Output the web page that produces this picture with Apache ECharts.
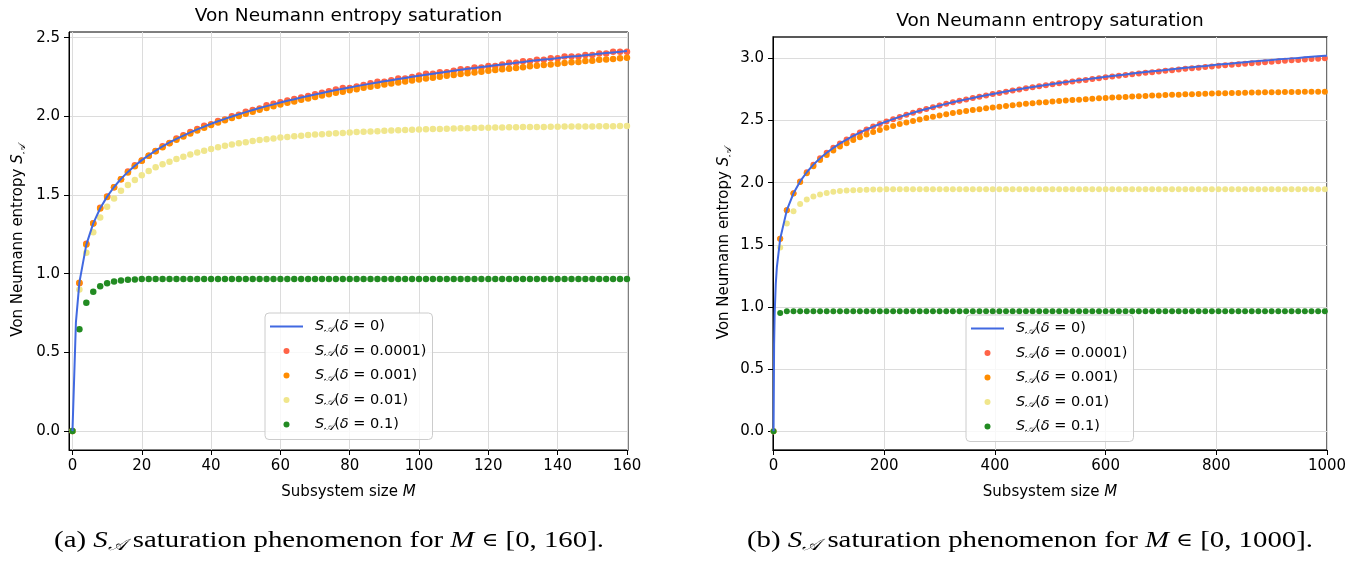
<!DOCTYPE html>
<html>
<head>
<meta charset="utf-8">
<title>Von Neumann entropy saturation</title>
<script src="https://cdn.jsdelivr.net/npm/echarts@6/dist/echarts.min.js"></script>
<style>
  html, body { margin: 0; padding: 0; background: #fff; }
  #main { width: 1362px; height: 561px; }
</style>
</head>
<body>
<div id="main"></div>
<script>
// ---- panel (a): subsystem sizes M = 0..160 ----
var mLeft = [0, 2, 4, 6, 8, 10, 12, 14, 16, 18,
  20, 22, 24, 26, 28, 30, 32, 34, 36, 38,
  40, 42, 44, 46, 48, 50, 52, 54, 56, 58,
  60, 62, 64, 66, 68, 70, 72, 74, 76, 78,
  80, 82, 84, 86, 88, 90, 92, 94, 96, 98,
  100, 102, 104, 106, 108, 110, 112, 114, 116, 118,
  120, 122, 124, 126, 128, 130, 132, 134, 136, 138,
  140, 142, 144, 146, 148, 150, 152, 154, 156, 158,
  160];

// delta = 0 (solid line)
var s0Left = [0, 0.945, 1.185, 1.320, 1.416, 1.490, 1.551, 1.603, 1.647, 1.686,
  1.722, 1.753, 1.782, 1.809, 1.834, 1.857, 1.878, 1.898, 1.917, 1.935,
  1.953, 1.969, 1.984, 1.999, 2.013, 2.027, 2.040, 2.053, 2.065, 2.076,
  2.088, 2.099, 2.109, 2.120, 2.129, 2.139, 2.149, 2.158, 2.167, 2.175,
  2.184, 2.192, 2.200, 2.208, 2.215, 2.223, 2.230, 2.237, 2.244, 2.251,
  2.258, 2.265, 2.271, 2.277, 2.284, 2.290, 2.296, 2.302, 2.307, 2.313,
  2.319, 2.324, 2.330, 2.335, 2.340, 2.345, 2.351, 2.356, 2.361, 2.365,
  2.370, 2.375, 2.380, 2.384, 2.389, 2.393, 2.398, 2.402, 2.406, 2.410,
  2.415];
// the line also passes through M = 1
var lineExtraLeftM = [1];
var lineExtraLeftS = [0.693];

// delta = 0.0001
var redLeft = [0, 0.94, 1.19, 1.32, 1.42, 1.49, 1.55, 1.60, 1.65, 1.69,
  1.72, 1.75, 1.78, 1.81, 1.83, 1.86, 1.88, 1.90, 1.92, 1.94,
  1.95, 1.97, 1.98, 2.00, 2.01, 2.03, 2.04, 2.05, 2.07, 2.08,
  2.09, 2.10, 2.11, 2.12, 2.13, 2.14, 2.15, 2.16, 2.17, 2.18,
  2.18, 2.19, 2.20, 2.21, 2.22, 2.22, 2.23, 2.24, 2.24, 2.25,
  2.26, 2.27, 2.27, 2.28, 2.28, 2.29, 2.30, 2.30, 2.31, 2.31,
  2.32, 2.32, 2.33, 2.34, 2.34, 2.35, 2.35, 2.36, 2.36, 2.37,
  2.37, 2.38, 2.38, 2.38, 2.39, 2.39, 2.40, 2.40, 2.41, 2.41,
  2.41];

// delta = 0.001
var orangeLeft = [0, 0.943, 1.185, 1.319, 1.415, 1.488, 1.549, 1.601, 1.644, 1.683,
  1.718, 1.749, 1.778, 1.804, 1.829, 1.851, 1.872, 1.891, 1.910, 1.928,
  1.945, 1.961, 1.975, 1.990, 2.003, 2.017, 2.029, 2.042, 2.053, 2.064,
  2.075, 2.086, 2.095, 2.106, 2.114, 2.123, 2.133, 2.141, 2.150, 2.157,
  2.166, 2.173, 2.181, 2.188, 2.195, 2.202, 2.208, 2.215, 2.221, 2.228,
  2.234, 2.240, 2.246, 2.251, 2.258, 2.263, 2.269, 2.274, 2.278, 2.284,
  2.289, 2.294, 2.299, 2.303, 2.308, 2.312, 2.318, 2.322, 2.326, 2.330,
  2.334, 2.339, 2.343, 2.346, 2.351, 2.354, 2.359, 2.362, 2.365, 2.369,
  2.373];

// delta = 0.01
var khakiLeft = [0, 0.900, 1.134, 1.264, 1.357, 1.425, 1.478, 1.527, 1.564, 1.596,
  1.626, 1.652, 1.676, 1.695, 1.712, 1.729, 1.744, 1.758, 1.771, 1.782,
  1.793, 1.803, 1.813, 1.821, 1.829, 1.836, 1.843, 1.849, 1.854, 1.860,
  1.865, 1.869, 1.873, 1.877, 1.881, 1.884, 1.887, 1.890, 1.892, 1.895,
  1.898, 1.900, 1.902, 1.904, 1.906, 1.908, 1.910, 1.912, 1.913, 1.915,
  1.916, 1.918, 1.919, 1.920, 1.922, 1.923, 1.924, 1.925, 1.926, 1.927,
  1.928, 1.929, 1.929, 1.930, 1.931, 1.932, 1.932, 1.933, 1.933, 1.934,
  1.934, 1.935, 1.935, 1.936, 1.936, 1.936, 1.937, 1.937, 1.937, 1.938,
  1.938];

// delta = 0.1
var greenLeft = [0, 0.647, 0.815, 0.885, 0.921, 0.940, 0.951, 0.957, 0.962, 0.964,
  0.966, 0.966, 0.966, 0.966, 0.966, 0.966, 0.966, 0.966, 0.966, 0.966,
  0.966, 0.966, 0.966, 0.966, 0.966, 0.966, 0.966, 0.966, 0.966, 0.966,
  0.966, 0.966, 0.966, 0.966, 0.966, 0.966, 0.966, 0.966, 0.966, 0.966,
  0.966, 0.966, 0.966, 0.966, 0.966, 0.966, 0.966, 0.966, 0.966, 0.966,
  0.966, 0.966, 0.966, 0.966, 0.966, 0.966, 0.966, 0.966, 0.966, 0.966,
  0.966, 0.966, 0.966, 0.966, 0.966, 0.966, 0.966, 0.966, 0.966, 0.966,
  0.966, 0.966, 0.966, 0.966, 0.966, 0.966, 0.966, 0.966, 0.966, 0.966,
  0.966];

// ---- panel (b): subsystem sizes M = 0..996 ----
var mRight = [0, 12, 24, 36, 48, 60, 72, 84, 96, 108,
  120, 132, 144, 156, 168, 180, 192, 204, 216, 228,
  240, 252, 264, 276, 288, 300, 312, 324, 336, 348,
  360, 372, 384, 396, 408, 420, 432, 444, 456, 468,
  480, 492, 504, 516, 528, 540, 552, 564, 576, 588,
  600, 612, 624, 636, 648, 660, 672, 684, 696, 708,
  720, 732, 744, 756, 768, 780, 792, 804, 816, 828,
  840, 852, 864, 876, 888, 900, 912, 924, 936, 948,
  960, 972, 984, 996];

var s0Right = [0, 1.548, 1.779, 1.914, 2.010, 2.084, 2.145, 2.197, 2.241, 2.280,
  2.316, 2.347, 2.376, 2.403, 2.428, 2.451, 2.472, 2.492, 2.511, 2.529,
  2.547, 2.563, 2.578, 2.593, 2.607, 2.621, 2.634, 2.647, 2.659, 2.670,
  2.682, 2.693, 2.703, 2.714, 2.723, 2.733, 2.743, 2.752, 2.761, 2.769,
  2.778, 2.786, 2.794, 2.802, 2.809, 2.817, 2.824, 2.831, 2.838, 2.845,
  2.852, 2.859, 2.865, 2.871, 2.878, 2.884, 2.890, 2.896, 2.901, 2.907,
  2.913, 2.918, 2.924, 2.929, 2.934, 2.939, 2.945, 2.950, 2.955, 2.959,
  2.964, 2.969, 2.974, 2.978, 2.983, 2.987, 2.992, 2.996, 3.000, 3.004,
  3.009, 3.013, 3.017, 3.021];
// the line is sampled more finely near M = 0 and runs to M = 1000
var lineExtraRightM = [1, 2, 4, 6, 1000];
var lineExtraRightS = [0.693, 0.945, 1.185, 1.320, 3.022];

var redRight = [0, 1.548, 1.779, 1.914, 2.010, 2.084, 2.145, 2.197, 2.241, 2.280,
  2.316, 2.347, 2.376, 2.403, 2.428, 2.451, 2.472, 2.492, 2.511, 2.529,
  2.547, 2.563, 2.578, 2.593, 2.607, 2.621, 2.634, 2.647, 2.659, 2.670,
  2.682, 2.692, 2.702, 2.713, 2.722, 2.732, 2.742, 2.750, 2.759, 2.767,
  2.776, 2.784, 2.791, 2.799, 2.806, 2.814, 2.821, 2.827, 2.834, 2.841,
  2.848, 2.854, 2.860, 2.866, 2.872, 2.878, 2.884, 2.889, 2.894, 2.900,
  2.905, 2.910, 2.916, 2.920, 2.925, 2.930, 2.935, 2.940, 2.944, 2.948,
  2.952, 2.957, 2.961, 2.965, 2.969, 2.972, 2.977, 2.980, 2.984, 2.987,
  2.991, 2.994, 2.998, 3.001];

var orangeRight = [0, 1.548, 1.779, 1.913, 2.006, 2.076, 2.133, 2.182, 2.222, 2.258,
  2.290, 2.317, 2.343, 2.366, 2.388, 2.407, 2.424, 2.441, 2.456, 2.471,
  2.485, 2.497, 2.509, 2.520, 2.531, 2.541, 2.550, 2.560, 2.568, 2.576,
  2.584, 2.591, 2.598, 2.605, 2.611, 2.617, 2.623, 2.629, 2.634, 2.639,
  2.644, 2.648, 2.653, 2.657, 2.661, 2.665, 2.668, 2.672, 2.675, 2.679,
  2.682, 2.685, 2.688, 2.690, 2.694, 2.696, 2.698, 2.701, 2.702, 2.705,
  2.707, 2.708, 2.711, 2.712, 2.714, 2.715, 2.717, 2.719, 2.720, 2.721,
  2.722, 2.723, 2.725, 2.725, 2.727, 2.727, 2.728, 2.729, 2.729, 2.730,
  2.731, 2.731, 2.732, 2.732];

var khakiRight = [0, 1.478, 1.671, 1.770, 1.829, 1.864, 1.888, 1.905, 1.917, 1.926,
  1.932, 1.936, 1.939, 1.941, 1.943, 1.944, 1.945, 1.946, 1.946, 1.947,
  1.947, 1.947, 1.947, 1.947, 1.947, 1.947, 1.947, 1.947, 1.947, 1.947,
  1.947, 1.947, 1.947, 1.947, 1.947, 1.947, 1.947, 1.947, 1.947, 1.947,
  1.947, 1.947, 1.947, 1.947, 1.947, 1.947, 1.947, 1.947, 1.947, 1.947,
  1.947, 1.947, 1.947, 1.947, 1.947, 1.947, 1.947, 1.947, 1.947, 1.947,
  1.947, 1.947, 1.947, 1.947, 1.947, 1.947, 1.947, 1.947, 1.947, 1.947,
  1.947, 1.947, 1.947, 1.947, 1.947, 1.947, 1.947, 1.947, 1.947, 1.947,
  1.947, 1.947, 1.947, 1.947];

var greenRight = [0, 0.952, 0.966, 0.966, 0.966, 0.966, 0.966, 0.966, 0.966, 0.966,
  0.966, 0.966, 0.966, 0.966, 0.966, 0.966, 0.966, 0.966, 0.966, 0.966,
  0.966, 0.966, 0.966, 0.966, 0.966, 0.966, 0.966, 0.966, 0.966, 0.966,
  0.966, 0.966, 0.966, 0.966, 0.966, 0.966, 0.966, 0.966, 0.966, 0.966,
  0.966, 0.966, 0.966, 0.966, 0.966, 0.966, 0.966, 0.966, 0.966, 0.966,
  0.966, 0.966, 0.966, 0.966, 0.966, 0.966, 0.966, 0.966, 0.966, 0.966,
  0.966, 0.966, 0.966, 0.966, 0.966, 0.966, 0.966, 0.966, 0.966, 0.966,
  0.966, 0.966, 0.966, 0.966, 0.966, 0.966, 0.966, 0.966, 0.966, 0.966,
  0.966, 0.966, 0.966, 0.966];

// tick labels
var xTicksLeft = [0, 20, 40, 60, 80, 100, 120, 140, 160];
var yTicksLeft = [0, 0.5, 1, 1.5, 2, 2.5];
var xTicksRight = [0, 200, 400, 600, 800, 1000];
var yTicksRight = [0, 0.5, 1, 1.5, 2, 2.5, 3];

var deltas = ['0', '0.0001', '0.001', '0.01', '0.1'];
var colors = ['#4169e1', '#ff6347', '#ff8c00', '#f0e68c', '#228b22'];
var names = deltas.map(function (d) { return 'S𝒜(δ = ' + d + ')'; });

var sans = 'DejaVu Sans';
var tickSize = 15;

function pairs(ms, vals) {
  return ms.map(function (m, i) { return [m, vals[i]]; });
}

function linePairs(ms, vals, extraM, extraS) {
  return pairs(ms, vals).concat(pairs(extraM, extraS)).sort(function (a, b) {
    return a[0] - b[0];
  });
}

function panelSeries(idx, ms, lineData, dots, dotSize) {
  var out = [{
    name: names[0],
    type: 'line',
    xAxisIndex: idx,
    yAxisIndex: idx,
    data: lineData,
    symbol: 'none',
    lineStyle: { color: colors[0], width: 2 },
    itemStyle: { color: colors[0] },
    animation: false
  }];
  dots.forEach(function (vals, j) {
    out.push({
      name: names[j + 1],
      type: 'scatter',
      xAxisIndex: idx,
      yAxisIndex: idx,
      data: pairs(ms, vals),
      symbolSize: dotSize,
      itemStyle: { color: colors[j + 1], opacity: 1 },
      animation: false
    });
  });
  return out;
}

var plainRich = {
  n: { fontFamily: sans, fontSize: tickSize, color: '#000' },
  i: { fontFamily: sans, fontSize: tickSize, color: '#000', fontStyle: 'italic' },
  sub: { fontFamily: sans, fontSize: 10, color: '#000', fontStyle: 'italic', padding: [7, 0, 0, 0] }
};

function xAxisFor(idx, min, max, step, ticks) {
  return {
    type: 'value', gridIndex: idx, min: min, max: max,
    minInterval: step, maxInterval: step,
    name: '{n|Subsystem size }{i|M}',
    nameLocation: 'middle', nameGap: 35,
    nameTextStyle: { rich: plainRich },
    axisLine: { onZero: false, lineStyle: { color: '#000', width: 1 } },
    axisTick: { length: 5, customValues: ticks, lineStyle: { color: '#000' } },
    axisLabel: {
      customValues: ticks, margin: 9, color: '#000', fontSize: tickSize, fontFamily: sans,
      formatter: function (v) { return String(v); }
    },
    splitLine: { show: true, lineStyle: { color: '#dcdcdc', width: 1 } }
  };
}

function yAxisFor(idx, min, max, ticks, gap) {
  return {
    type: 'value', gridIndex: idx, min: min, max: max,
    minInterval: 0.5, maxInterval: 0.5,
    name: '{n|Von Neumann entropy }{i|S}{sub|𝒜}',
    nameLocation: 'middle', nameGap: gap,
    nameTextStyle: { rich: plainRich },
    axisLine: { onZero: false, lineStyle: { color: '#000', width: 1 } },
    axisTick: { length: 5, customValues: ticks, lineStyle: { color: '#000' } },
    axisLabel: {
      customValues: ticks, margin: 9, color: '#000', fontSize: tickSize, fontFamily: sans,
      formatter: function (v) { return v.toFixed(1); }
    },
    splitLine: { show: true, lineStyle: { color: '#dcdcdc', width: 1 } }
  };
}

var legendRich = {
  n: { fontFamily: sans, fontSize: 14.5, color: '#000', lineHeight: 16 },
  s: { fontFamily: sans, fontSize: 14.5, color: '#000', lineHeight: 16, fontStyle: 'italic' },
  sub: { fontFamily: sans, fontSize: 11, color: '#000', lineHeight: 10, verticalAlign: 'bottom', fontStyle: 'italic' }
};

// plain bar for the line entry, dots for the scatter entries
var lineIcon = 'path://M0,0L33,0L33,2.2L0,2.2Z';

function legendFor(left, top) {
  return {
    data: names.map(function (n, i) {
      return i === 0 ? { name: n, icon: lineIcon } : { name: n, icon: 'circle' };
    }),
    orient: 'vertical',
    left: left, top: top,
    itemWidth: 33, itemHeight: 6, itemGap: 9,
    padding: [6, 6, 7, 5],
    backgroundColor: 'rgba(255,255,255,0.8)',
    borderColor: '#cccccc', borderWidth: 1, borderRadius: 4,
    selectedMode: false,
    formatter: function (name) {
      var d = name.slice(name.indexOf('= ') + 2, -1);
      return '{s|S}{sub|𝒜}{n|(}{s|δ}{n| = ' + d + ')}';
    },
    textStyle: { fontSize: 14.5, fontFamily: sans, padding: [0, 0, 0, 7], rich: legendRich }
  };
}

var serif = 'Liberation Serif';
var captionRich = {
  n: { fontFamily: serif, fontSize: 24, color: '#000' },
  i: { fontFamily: serif, fontSize: 24, color: '#000', fontStyle: 'italic' },
  el: { fontFamily: 'DejaVu Serif', fontSize: 19, color: '#000' },
  sub: { fontFamily: serif, fontSize: 16, color: '#000', fontStyle: 'italic', padding: [10, 0, 0, 0] }
};

function textAt(x, y, text, rich, sx) {
  return {
    type: 'text', x: x, y: y, scaleX: sx || 1,
    style: { text: text, rich: rich, align: 'center', verticalAlign: 'middle', textAlign: 'center', textVerticalAlign: 'middle' }
  };
}

var titleRich = { t: { fontFamily: sans, fontSize: 18.5, color: '#000' } };

var chart = echarts.init(document.getElementById('main'), null, { renderer: 'canvas' });

chart.setOption({
  backgroundColor: '#fff',
  animation: false,
  grid: [
    { left: 69, top: 32, width: 559, height: 418, show: true, borderColor: '#000', borderWidth: 1, backgroundColor: 'transparent', outerBoundsMode: 'none' },
    { left: 773, top: 37, width: 554, height: 413, show: true, borderColor: '#222', borderWidth: 1.3, backgroundColor: 'transparent', outerBoundsMode: 'none' }
  ],
  xAxis: [
    xAxisFor(0, -1, 160.3, 20, xTicksLeft),
    xAxisFor(1, -1, 1000, 200, xTicksRight)
  ],
  yAxis: [
    yAxisFor(0, -0.12, 2.536, yTicksLeft, 42),
    yAxisFor(1, -0.151, 3.172, yTicksRight, 40)
  ],
  legend: [legendFor(265, 313), legendFor(966, 315)],
  graphic: [
    textAt(348.5, 16, '{t|Von Neumann entropy saturation}', titleRich),
    textAt(1050, 21, '{t|Von Neumann entropy saturation}', titleRich),
    textAt(329, 541, '{n|(a) }{i|S}{sub|𝒜}{n| saturation phenomenon for }{i|M}{n| }{el|∈}{n| [0, 160].}', captionRich, 1.2),
    textAt(1030, 541, '{n|(b) }{i|S}{sub|𝒜}{n| saturation phenomenon for }{i|M}{n| }{el|∈}{n| [0, 1000].}', captionRich, 1.2)
  ],
  series: panelSeries(0, mLeft, linePairs(mLeft, s0Left, lineExtraLeftM, lineExtraLeftS),
      [redLeft, orangeLeft, khakiLeft, greenLeft], 6.5)
    .concat(panelSeries(1, mRight, linePairs(mRight, s0Right, lineExtraRightM, lineExtraRightS),
      [redRight, orangeRight, khakiRight, greenRight], 6))
});
</script>
</body>
</html>
